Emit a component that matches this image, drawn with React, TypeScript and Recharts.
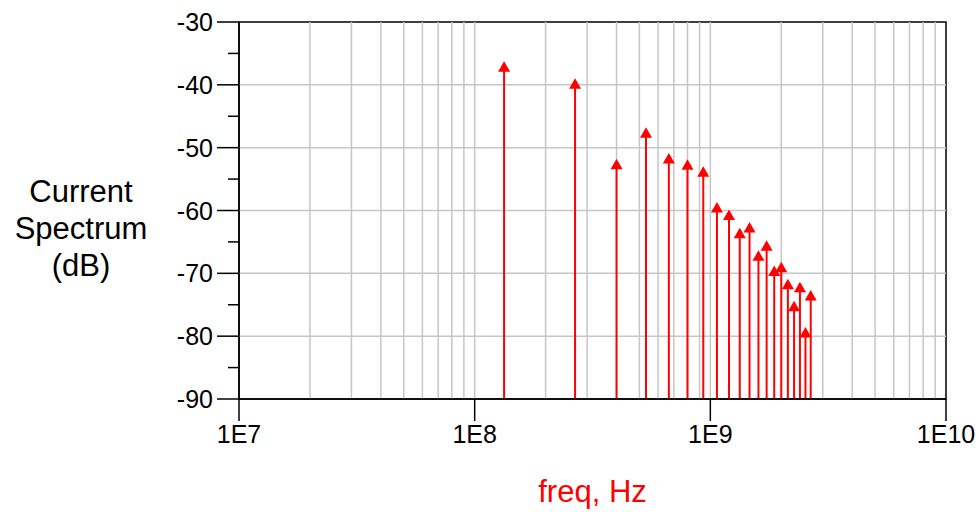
import { ComposedChart, Scatter, XAxis, YAxis, ReferenceLine, ReferenceArea } from "recharts"

// harmonics of ~133 MHz clock
const freqs = [
  1.333e8, 2.667e8, 4.0e8, 5.333e8, 6.667e8, 8.0e8, 9.333e8, 1.0667e9, 1.2e9, 1.333e9,
  1.4667e9, 1.6e9, 1.7333e9, 1.8667e9, 2.0e9, 2.1333e9, 2.2667e9, 2.4e9, 2.5333e9, 2.6667e9,
]
const spectrumDb = [
  -37.2, -39.9, -52.7, -47.7, -51.8, -52.8, -53.9, -59.6, -60.8, -63.7,
  -62.8, -67.3, -65.7, -69.7, -69.1, -71.8, -75.3, -72.3, -79.5, -73.6,
]
const xTicks = [1e7, 1e8, 1e9, 1e10]
const xTickLabels = ["1E7", "1E8", "1E9", "1E10"]
const yTicks = [-90, -85, -80, -75, -70, -65, -60, -55, -50, -45, -40, -35, -30]
const yGrid = [-80, -70, -60, -50, -40]
const xGrid = [
  2e7, 3e7, 4e7, 5e7, 6e7, 7e7, 8e7, 9e7, 1e8,
  2e8, 3e8, 4e8, 5e8, 6e8, 7e8, 8e8, 9e8, 1e9,
  2e9, 3e9, 4e9, 5e9, 6e9, 7e9, 8e9, 9e9,
]

const FONT = "'Liberation Sans', Arial, sans-serif"
const TICK = 22
const MARGIN = 4
const GRID = "#c6c6c6"
const RED = "#ff0000"

function YTick(props: any) {
  const { x, y, payload } = props
  const axisX = x + TICK + MARGIN
  const major = payload.value % 10 === 0
  return (
    <g>
      <line x1={axisX - (major ? TICK : 11)} x2={axisX} y1={y} y2={y} stroke="#000" strokeWidth={1.5} />
      {major && (
        <text x={axisX - TICK - 4} y={y} dy="0.36em" textAnchor="end" fontSize={25} fontFamily={FONT} fill="#000">
          {payload.value}
        </text>
      )}
    </g>
  )
}

function Triangle(props: any) {
  const { cx, cy } = props
  return <polygon points={`${cx},${cy - 6} ${cx - 6},${cy + 4.5} ${cx + 6},${cy + 4.5}`} fill={RED} />
}

export default function App() {
  const data = freqs.map((f, i) => ({ freq: f, db: spectrumDb[i] }))

  return (
    <div style={{ position: "absolute", left: 0, top: 0, width: 979, height: 512, background: "#fff" }}>
      <div
        style={{
          position: "absolute", left: 0, top: 173, width: 162, textAlign: "center",
          fontFamily: FONT, fontSize: 31, lineHeight: "37px", color: "#000",
        }}
      >
        Current<br />Spectrum<br />(dB)
      </div>
      <ComposedChart width={979} height={512} data={data} margin={{ top: 22, right: 33, bottom: 0, left: 0 }}>
        <XAxis
          dataKey="freq"
          type="number"
          scale="log"
          domain={[1e7, 1e10]}
          ticks={xTicks}
          interval={0}
          allowDataOverflow
          tickFormatter={(v: number) => xTickLabels[xTicks.indexOf(v)] ?? ""}
          tickSize={TICK}
          tickMargin={4}
          height={113}
          stroke="#000"
          strokeWidth={1.5}
          tick={{ fill: "#000", fontSize: 25, fontFamily: FONT }}
          label={{ value: "freq, Hz", position: "insideBottom", offset: 10, fill: RED, fontSize: 31, fontFamily: FONT }}
        />
        <YAxis
          dataKey="db"
          type="number"
          domain={[-90, -30]}
          ticks={yTicks}
          interval={0}
          allowDataOverflow
          width={239}
          tickSize={TICK}
          tickMargin={MARGIN}
          tickLine={false}
          stroke="#000"
          strokeWidth={1.5}
          tick={<YTick />}
        />
        {xGrid.map((g) => (
          <ReferenceLine key={"x" + g} x={g} stroke={GRID} strokeWidth={1.5} />
        ))}
        {yGrid.map((g) => (
          <ReferenceLine key={"y" + g} y={g} stroke={GRID} strokeWidth={1.5} />
        ))}
        <ReferenceArea x1={1e7} x2={1e10} y1={-90} y2={-30} fill="none" stroke="#000" strokeWidth={1.5} />
        {data.map((d) => (
          <ReferenceLine
            key={"s" + d.freq}
            segment={[{ x: d.freq, y: -90 }, { x: d.freq, y: d.db }]}
            stroke={RED}
            strokeWidth={2}
          />
        ))}
        <Scatter dataKey="db" fill={RED} shape={<Triangle />} isAnimationActive={false} />
      </ComposedChart>
    </div>
  )
}
